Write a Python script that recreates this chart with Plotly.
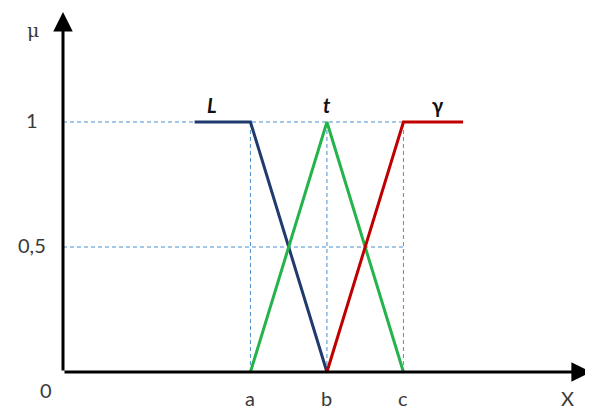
import plotly.graph_objects as go

# Key points on the universe of discourse
a, b, c = 2.45, 3.45, 4.45
x_start, x_end = 1.72, 5.23

# Membership functions
L_x = [x_start, a, b]
L_y = [1, 1, 0]
t_x = [a, b, c]
t_y = [0, 1, 0]
g_x = [b, c, x_end]
g_y = [0, 1, 1]

series_names = ["L", "t", "γ"]
series_colors = ["#1f3a6e", "#25b34c", "#c00000"]

x_tick_vals = [a, b, c]
x_tick_text = ["a", "b", "c"]
y_tick_vals = [1, 0.5]
y_tick_text = ["1", "0,5"]

guide = dict(color="#4a8fd0", width=1, dash="4px,3px")

fig = go.Figure()

# guide lines (dashed)
fig.add_trace(go.Scatter(x=[0, c], y=[1, 1], mode="lines", line=guide, hoverinfo="skip"))
fig.add_trace(go.Scatter(x=[0, c], y=[0.5, 0.5], mode="lines", line=guide, hoverinfo="skip"))
for xv in x_tick_vals:
    fig.add_trace(go.Scatter(x=[xv, xv], y=[0, 1], mode="lines", line=guide, hoverinfo="skip"))

for xs, ys, col in zip([L_x, t_x, g_x], [L_y, t_y, g_y], series_colors):
    fig.add_trace(go.Scatter(x=xs, y=ys, mode="lines", line=dict(color=col, width=3), hoverinfo="skip"))

font = dict(family="Lato, Open Sans, sans-serif", size=20, color="#3a3a3a")
ann = []
# axes with arrows
ann.append(dict(x=6.9, y=0, ax=0, ay=0, xref="x", yref="y", axref="x", ayref="y",
                showarrow=True, arrowhead=2, arrowsize=1.3, arrowwidth=3, arrowcolor="black", text=""))
ann.append(dict(x=0, y=1.44, ax=0, ay=0, xref="x", yref="y", axref="x", ayref="y",
                showarrow=True, arrowhead=2, arrowsize=1.3, arrowwidth=3, arrowcolor="black", text=""))
# series labels
lab_x = [1.95, b, 4.90]
for name, xv in zip(series_names, lab_x):
    txt = "<b><i>%s</i></b>" % name if name != "γ" else "<b>%s</b>" % name
    ann.append(dict(x=xv, y=1.07, text=txt, showarrow=False,
                    font=dict(family="Lato, Open Sans, sans-serif", size=20, color="#111111")))
# tick labels
for xv, tx in zip(x_tick_vals, x_tick_text):
    ann.append(dict(x=xv, y=-0.104, text=tx, showarrow=False, font=font))
for yv, tx in zip(y_tick_vals, y_tick_text):
    ann.append(dict(x=-0.4, y=yv + 0.01, text=tx, showarrow=False, font=font))
ann.append(dict(x=-0.222, y=-0.072, text="0", showarrow=False, font=font))
ann.append(dict(x=6.59, y=-0.104, text="X", showarrow=False, font=font))
ann.append(dict(x=-0.392, y=1.368, text="μ", showarrow=False,
                font=dict(family="DejaVu Serif, serif", size=19, color="#3a3a3a")))

fig.update_layout(
    width=593, height=410,
    margin=dict(l=0, r=0, t=0, b=0),
    paper_bgcolor="white", plot_bgcolor="white",
    showlegend=False,
    xaxis=dict(range=[-55 / 76.5, 538 / 76.5], visible=False, fixedrange=True),
    yaxis=dict(range=[-46 / 250, 364 / 250], visible=False, fixedrange=True),
    annotations=ann,
)

fig.write_html("out.html")
